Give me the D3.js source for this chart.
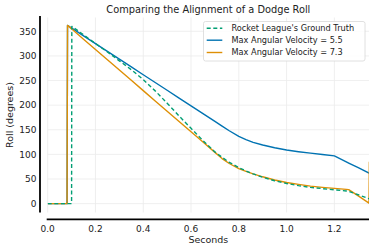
<!DOCTYPE html>
<html><head><meta charset="utf-8">
<script src="https://cdn.jsdelivr.net/npm/d3@7"></script>
<style>body{margin:0;background:#fff} svg{display:block;font-family:"DejaVu Sans",sans-serif}</style>
</head><body><svg id="c" width="374" height="250"></svg>
<script>
const times       = [0, 0.081, 0.083, 0.1, 0.101, 0.15, 0.2, 0.25, 0.3, 0.35, 0.4, 0.45, 0.5, 0.55, 0.6, 0.65, 0.7, 0.73, 0.76, 0.8, 0.83, 0.86, 0.9, 0.95, 1.0, 1.05, 1.1, 1.15, 1.2, 1.25, 1.26, 1.3, 1.345, 1.3465];
const groundTruth = [0, 0, 0, 0, 360, 343, 325, 308, 290, 272, 252, 229, 204, 178, 153, 128, 105, 94, 84, 73, 66.5, 60.5, 53.5, 46.5, 41, 36.5, 33, 30.5, 28, 25.7, 25, 18, 10, 10];
const vel55       = [0, 0, 362, 356.6, 356.3, 340.8, 325, 309.2, 293.4, 277.6, 261.8, 246, 230.2, 214.4, 198.6, 182.8, 167, 157.5, 148, 136.5, 130, 124.5, 119, 113.5, 109, 105.5, 102.5, 99.7, 97, 85, 82.5, 73, 62, 62];
const vel73       = [0, 0, 362, 354.9, 354.5, 334, 313, 292.2, 271.3, 250.4, 229.5, 208.6, 187.7, 166.8, 145.9, 125, 104.1, 91.5, 81.5, 71, 65.5, 60.5, 54.5, 48, 43, 39, 35.5, 33, 31, 29, 28.5, 15.6, 1, 85];
const seriesNames = ["Rocket League's Ground Truth", "Max Angular Velocity = 5.5", "Max Angular Velocity = 7.3"];
const seriesColors = ["#029e73", "#0173b2", "#de8f05"];
const xTicks = [0, 0.2, 0.4, 0.6, 0.8, 1.0, 1.2];
const yTicks = [0, 50, 100, 150, 200, 250, 300, 350];
const titleText = "Comparing the Alignment of a Dodge Roll";
const xLabel = "Seconds";
const yLabel = "Roll (degrees)";

const svg = d3.select("#c");
const L = 47.7, R = 369, T = 17.5, B = 212.5;
const x = d3.scaleLinear().domain([0, 1.345]).range([L, R]);
const y = d3.scaleLinear().domain([-18, 378]).range([B, T]);

// grid
const grid = svg.append("g").attr("stroke", "#ebebeb").attr("stroke-width", 0.8);
xTicks.forEach(t => grid.append("line").attr("x1", x(t)).attr("x2", x(t)).attr("y1", T).attr("y2", B));
yTicks.forEach(t => grid.append("line").attr("x1", L).attr("x2", R).attr("y1", y(t)).attr("y2", y(t)));

// clip
svg.append("clipPath").attr("id", "clip").append("rect")
  .attr("x", L).attr("y", T).attr("width", R - L).attr("height", B - T);

const seriesData = [groundTruth, vel55, vel73];
const line = d3.line().x(d => x(d[0])).y(d => y(d[1]));
const order = [1, 2, 0];
order.forEach(i => {
  const pts = times.map((t, k) => [t, seriesData[i][k]]);
  svg.append("path").attr("clip-path", "url(#clip)")
    .attr("d", line(pts)).attr("fill", "none")
    .attr("stroke", seriesColors[i]).attr("stroke-width", 1.4)
    .attr("stroke-dasharray", i === 0 ? "4,2.6" : null)
    .attr("stroke-linejoin", "round");
});

// spines
svg.append("line").attr("x1", 40).attr("x2", 40).attr("y1", T - 1.5).attr("y2", B).attr("stroke", "#000").attr("stroke-width", 1.8);
svg.append("line").attr("x1", L - 1).attr("x2", R).attr("y1", 219.3).attr("y2", 219.3).attr("stroke", "#000").attr("stroke-width", 1.8);

// tick labels
svg.append("g").selectAll("text").data(yTicks).join("text")
  .attr("x", 36.5).attr("y", d => y(d)).attr("dy", "0.36em")
  .attr("text-anchor", "end").attr("font-size", 9).attr("fill", "#222").text(d => d);
svg.append("g").selectAll("text").data(xTicks).join("text")
  .attr("x", d => x(d)).attr("y", 228.5).attr("dy", "0.36em")
  .attr("text-anchor", "middle").attr("font-size", 9).attr("fill", "#222").text(d => d.toFixed(1));

// labels
svg.append("text").attr("x", (L + R) / 2).attr("y", 242.5).attr("text-anchor", "middle")
  .attr("font-size", 9.5).attr("fill", "#222").text(xLabel);
svg.append("text").attr("transform", `translate(12.5,${(T + B) / 2}) rotate(-90)`).attr("text-anchor", "middle")
  .attr("font-size", 9.5).attr("fill", "#222").text(yLabel);
svg.append("text").attr("x", (L + R) / 2).attr("y", 12.5).attr("text-anchor", "middle")
  .attr("font-size", 9.8).attr("fill", "#222").text(titleText);

// legend
const lg = svg.append("g");
lg.append("rect").attr("x", 203.5).attr("y", 21.5).attr("width", 161.5).attr("height", 39.5).attr("rx", 2)
  .attr("fill", "#fff").attr("fill-opacity", 0.85).attr("stroke", "#d8d8d8").attr("stroke-width", 0.8);
const rowsY = [28.3, 40.2, 52.5];
seriesNames.forEach((n, i) => {
  lg.append("line").attr("x1", 206.7).attr("x2", 222.3).attr("y1", rowsY[i]).attr("y2", rowsY[i])
    .attr("stroke", seriesColors[i]).attr("stroke-width", 1.4)
    .attr("stroke-dasharray", i === 0 ? "4,2.6" : null);
  lg.append("text").attr("x", 231.5).attr("y", rowsY[i]).attr("dy", "0.36em")
    .attr("font-size", 8.2).attr("fill", "#222").text(n);
});
</script></body></html>
